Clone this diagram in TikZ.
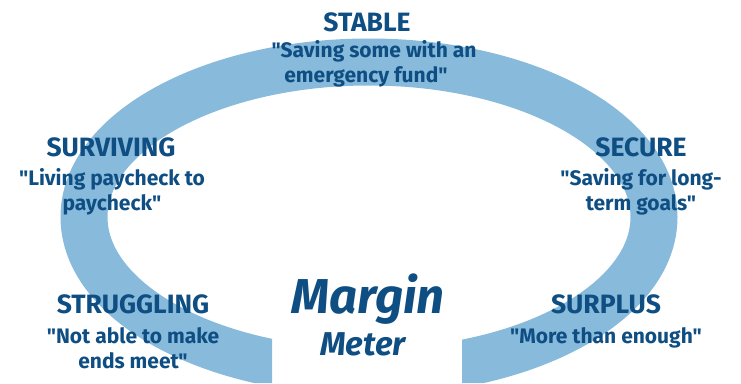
\documentclass[tikz,border=0pt]{standalone}
\usepackage{fontspec}
\setmainfont{Fira Sans}[Ligatures=TeXOff]
\definecolor{band}{RGB}{135,186,219}
\definecolor{ink}{RGB}{14,78,130}
\begin{document}
\begin{tikzpicture}[x=1pt,y=-1pt,
  ttl/.style={anchor=base,inner sep=0pt,text=ink,font=\fontsize{26.5}{30}\selectfont\bfseries},
  qt/.style={anchor=base,inner sep=0pt,text=ink,font=\fontsize{21}{24}\selectfont\bfseries},
  big/.style={anchor=base,inner sep=0pt,text=ink,font=\fontsize{49}{52}\selectfont\bfseries\itshape},
  mid/.style={anchor=base,inner sep=0pt,text=ink,font=\fontsize{33}{36}\selectfont\bfseries\itshape}]
\useasboundingbox (0,0) rectangle (741,383);
\begin{scope}
  \clip (0,0) -- (741,0) -- (741,383) -- (462,383) -- (462,240) -- (272,240) -- (272,383) -- (0,383) -- cycle;
  \draw[band,line width=47pt] (369,217) ellipse [x radius=285, y radius=155];
\end{scope}
% STABLE
\node[ttl] (stT) at (367,31) {STABLE};
\node[qt] (stQ1) at (374,57) {"Saving some with an};
\node[qt] (stQ2) at (366,82) {emergency fund"};
% SURVIVING
\node[ttl] (svT) at (111,156) {SURVIVING};
\node[qt] (svQ1) at (112,185) {"Living paycheck to};
\node[qt] (svQ2) at (112,210) {paycheck"};
% SECURE
\node[ttl] (scT) at (641,156) {SECURE};
\node[qt] (scQ1) at (641,185) {"Saving for long-};
\node[qt] (scQ2) at (641,210) {term goals"};
% STRUGGLING
\node[ttl] (sgT) at (133,313) {STRUGGLING};
\node[qt] (sgQ1) at (133,343) {"Not able to make};
\node[qt] (sgQ2) at (133,368) {ends meet"};
% SURPLUS
\node[ttl] (spT) at (606,313) {SURPLUS};
\node[qt] (spQ1) at (606,343) {"More than enough"};
% Margin Meter
\node[big] (mg) at (368,313) {Margin};
\node[mid] (mt) at (363,355) {Meter};
\end{tikzpicture}
\end{document}
